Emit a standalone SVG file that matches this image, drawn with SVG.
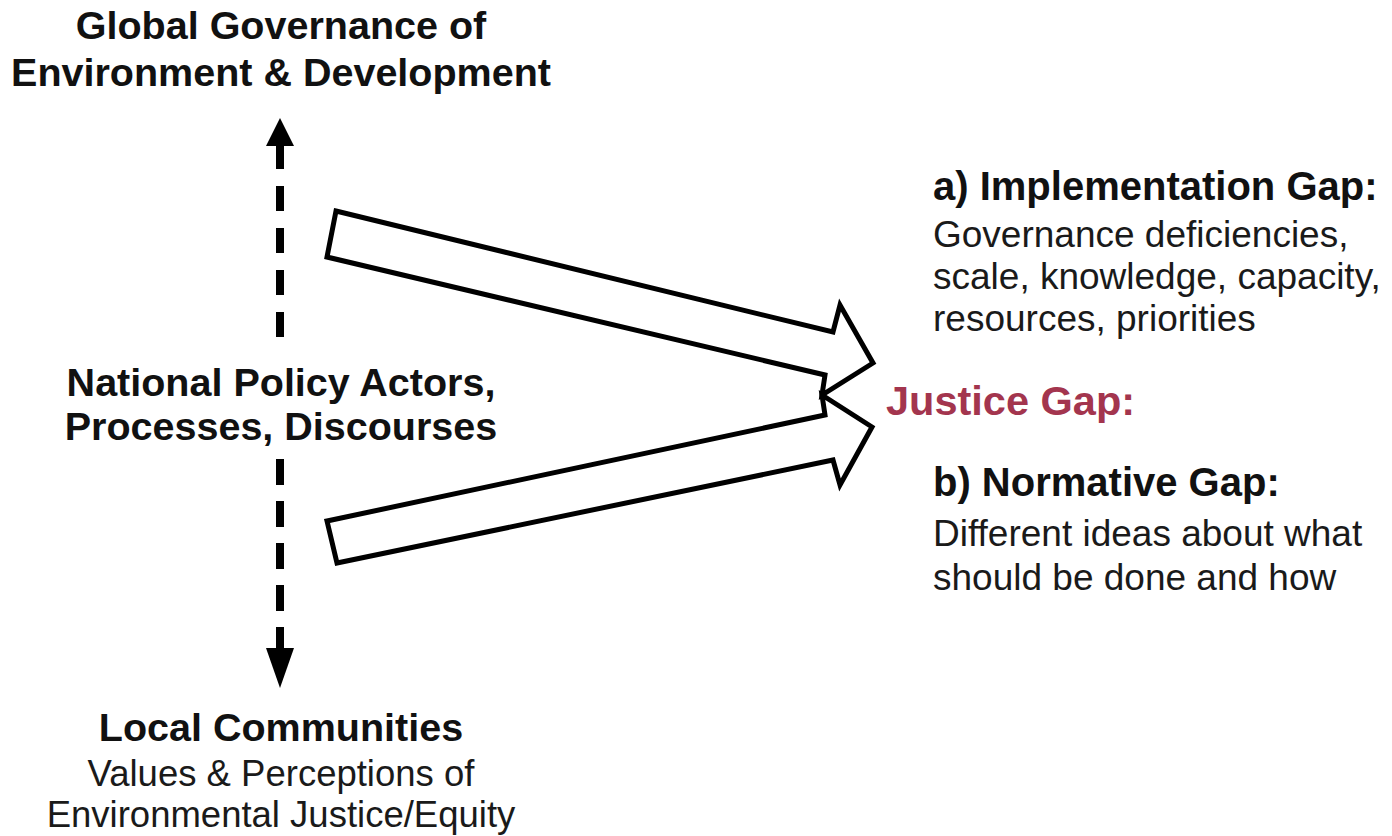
<svg xmlns="http://www.w3.org/2000/svg" width="1392" height="836" viewBox="0 0 1392 836">
<style>
.b{font-family:"Liberation Sans",Arial,sans-serif;font-weight:bold;fill:#111}
.r{font-family:"Liberation Sans",Arial,sans-serif;fill:#1a1a1a}
.c{text-anchor:middle}
.blk{fill:#fff;stroke:#000;stroke-width:5;stroke-linejoin:miter}
.dash{fill:none;stroke:#000;stroke-width:8}
.head{fill:#000}
</style>
<rect width="1392" height="836" fill="#fff"/>
<g id="connectors">
<path class="dash" d="M280 144 V340" stroke-dasharray="25 17"/>
<path class="dash" d="M280 459 V652" stroke-dasharray="26 16"/>
<polygon class="head" points="280,118 266,146 294,146"/>
<polygon class="head" points="280,688 266,648 294,648"/>
<polygon class="blk" points="336,211 833,332 840,305 873,363 822,395 825,375 327,257"/>
<polygon class="blk" points="327,521 825,415 822,395 872,427 840,485 833,460 337,563"/>
</g>
<g id="global">
<text class="b c" x="281" y="39" font-size="39.5">Global Governance of</text>
<text class="b c" x="281" y="86" font-size="39.5">Environment &amp; Development</text>
</g>
<g id="national">
<text class="b c" x="281" y="396" font-size="39.5">National Policy Actors,</text>
<text class="b c" x="281" y="440" font-size="39.5">Processes, Discourses</text>
</g>
<g id="local">
<text class="b c" x="281" y="741" font-size="39.5">Local Communities</text>
<text class="r c" x="281" y="786" font-size="36.5">Values &amp; Perceptions of</text>
<text class="r c" x="281" y="827" font-size="36.5">Environmental Justice/Equity</text>
</g>
<g id="implementation">
<text class="b" x="933" y="200" font-size="40">a) Implementation Gap:</text>
<text class="r" x="933" y="247" font-size="37">Governance deficiencies,</text>
<text class="r" x="933" y="289" font-size="37">scale, knowledge, capacity,</text>
<text class="r" x="933" y="331" font-size="37">resources, priorities</text>
</g>
<g id="justice">
<text x="886" y="415" font-size="41.5" font-family="Liberation Sans, Arial, sans-serif" font-weight="bold" fill="#a3354e">Justice Gap:</text>
</g>
<g id="normative">
<text class="b" x="933" y="496" font-size="40">b) Normative Gap:</text>
<text class="r" x="933" y="546" font-size="37">Different ideas about what</text>
<text class="r" x="933" y="590" font-size="37">should be done and how</text>
</g>
</svg>
